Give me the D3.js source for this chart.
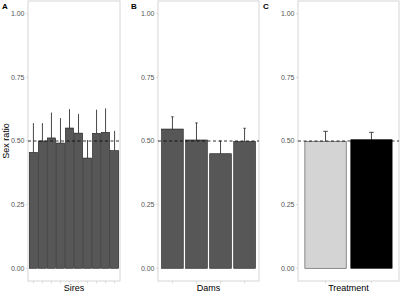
<!DOCTYPE html>
<html>
<head>
<meta charset="utf-8">
<script src="https://cdn.jsdelivr.net/npm/d3@7"></script>
<style>
  body { margin: 0; background: #fff; }
  svg { display: block; font-family: "Liberation Sans", Arial, sans-serif; }
</style>
</head>
<body>
<svg width="400" height="293"></svg>
<script>
// Panel A: sires
const sires = ['1', '2', '3', '4', '5', '6', '7', '8', '9', '10'];
const sireRatio = [0.455, 0.50, 0.512, 0.492, 0.551, 0.531, 0.433, 0.530, 0.534, 0.462];
const sireUpper = [0.568, 0.568, 0.610, 0.588, 0.623, 0.604, 0.502, 0.621, 0.626, 0.538];

// Panel B: dams
const dams = ['1', '2', '3', '4'];
const damRatio = [0.547, 0.504, 0.450, 0.498];
const damUpper = [0.595, 0.571, 0.500, 0.550];

// Panel C: treatment
const treatments = ['Control', 'Treated'];
const treatRatio = [0.498, 0.505];
const treatUpper = [0.538, 0.534];

const yTicks = [0, 0.25, 0.5, 0.75, 1];

const svg = d3.select('svg');

const panelTop = 1, panelBottom = 281;
const y = d3.scaleLinear().domain([-0.05, 1.05]).range([panelBottom, panelTop]);

function drawPanel(opts) {
  const { x0, x1, cats, vals, upper, fills, strokes, title, tag, tagX } = opts;
  const g = svg.append('g');

  const x = d3.scaleBand()
    .domain(cats)
    .range([x0, x1])
    .paddingInner(0.1)
    .paddingOuter(0.15);

  // panel border
  g.append('rect')
    .attr('x', x0).attr('y', panelTop)
    .attr('width', x1 - x0).attr('height', panelBottom - panelTop)
    .attr('fill', 'none')
    .attr('stroke', '#d6d6d6')
    .attr('stroke-width', 1);

  // y axis labels and ticks
  const yAxis = g.append('g');
  yTicks.forEach((t) => {
    yAxis.append('line')
      .attr('x1', x0 - 2).attr('x2', x0)
      .attr('y1', y(t)).attr('y2', y(t))
      .attr('stroke', '#c8c8c8').attr('stroke-width', 0.6);
    yAxis.append('text')
      .attr('x', x0 - 3.5).attr('y', y(t))
      .attr('dy', '0.35em')
      .attr('text-anchor', 'end')
      .attr('font-size', 7)
      .attr('fill', '#555')
      .text(d3.format('.2f')(t));
  });

  // x ticks
  cats.forEach((c) => {
    const cx = x(c) + x.bandwidth() / 2;
    g.append('line')
      .attr('x1', cx).attr('x2', cx)
      .attr('y1', panelBottom).attr('y2', panelBottom + 2.5)
      .attr('stroke', '#c8c8c8').attr('stroke-width', 0.6);
  });

  // error bars (upper half only)
  const capW = x.step() * 0.1;
  cats.forEach((c, i) => {
    const cx = x(c) + x.bandwidth() / 2;
    g.append('line')
      .attr('x1', cx).attr('x2', cx)
      .attr('y1', y(vals[i])).attr('y2', y(upper[i]))
      .attr('stroke', '#333').attr('stroke-width', 0.9);
    g.append('line')
      .attr('x1', cx - capW / 2).attr('x2', cx + capW / 2)
      .attr('y1', y(upper[i])).attr('y2', y(upper[i]))
      .attr('stroke', '#333').attr('stroke-width', 0.9);
  });

  // bars
  g.selectAll('.bar')
    .data(cats)
    .join('rect')
    .attr('class', 'bar')
    .attr('x', (d) => x(d))
    .attr('width', x.bandwidth())
    .attr('y', (d, i) => y(vals[i]))
    .attr('height', (d, i) => y(0) - y(vals[i]))
    .attr('fill', (d, i) => fills[i % fills.length])
    .attr('stroke', (d, i) => strokes[i % strokes.length])
    .attr('stroke-width', 0.6);

  // reference line at 0.5
  g.append('line')
    .attr('x1', x0).attr('x2', x1)
    .attr('y1', y(0.5)).attr('y2', y(0.5))
    .attr('stroke', '#000')
    .attr('stroke-width', 0.8)
    .attr('stroke-dasharray', '3,2.5');

  // axis title
  g.append('text')
    .attr('x', (x0 + x1) / 2).attr('y', 291)
    .attr('text-anchor', 'middle')
    .attr('font-size', 9)
    .attr('fill', '#000')
    .text(title);

  // panel tag
  svg.append('text')
    .attr('x', tagX).attr('y', 9)
    .attr('font-size', 8)
    .attr('font-weight', 'bold')
    .attr('fill', '#000')
    .text(tag);
}

drawPanel({
  x0: 28, x1: 120, cats: sires, vals: sireRatio, upper: sireUpper,
  fills: ['#575757'], strokes: ['#1a1a1a'], title: 'Sires', tag: 'A', tagX: 2,
});
drawPanel({
  x0: 158, x1: 259, cats: dams, vals: damRatio, upper: damUpper,
  fills: ['#575757'], strokes: ['#1a1a1a'], title: 'Dams', tag: 'B', tagX: 131,
});
drawPanel({
  x0: 298, x1: 399, cats: treatments, vals: treatRatio, upper: treatUpper,
  fills: ['#d4d4d4', '#000'], strokes: ['#444', '#000'], title: 'Treatment', tag: 'C', tagX: 263,
});

// y axis title
svg.append('text')
  .attr('transform', `translate(9, ${y(0.5)}) rotate(-90)`)
  .attr('text-anchor', 'middle')
  .attr('font-size', 9)
  .attr('fill', '#000')
  .text('Sex ratio');
</script>
</body>
</html>
